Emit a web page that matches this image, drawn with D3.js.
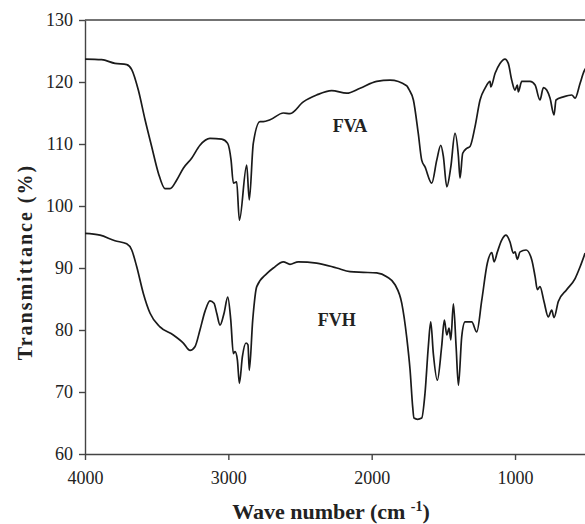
<!DOCTYPE html>
<html>
<head>
    <meta charset="utf-8">
    <style>
        body {
            margin: 0;
            background: #fff;
        }

        .axis .domain,
        .axis .tick line {
            stroke: #444;
            stroke-width: 1.4;
        }
    </style>
</head>
<body>
    <svg width="585" height="524"></svg>

<script src="https://d3js.org/d3.v7.min.js"></script>
<script>
    // wavenumber (cm-1) / transmittance (%)
    let fvaWave = [4000, 3884, 3791, 3709, 3674, 3628, 3581, 3535, 3488, 3442, 3407, 3360, 3314, 3256, 3198, 3128,
        3046, 3005, 2981, 2965, 2942, 2923, 2872, 2854, 2826, 2779, 2756, 2709, 2616, 2570, 2477, 2384, 2279, 2174,
        2081, 1965, 1872, 1756, 1740, 1709, 1675, 1651, 1628, 1581, 1546, 1518, 1500, 1476, 1448, 1419, 1395, 1384,
        1365, 1337, 1314, 1279, 1244, 1209, 1174, 1169, 1139, 1105, 1070, 1047, 1023, 1000, 984, 977, 953, 895, 860,
        826, 802, 779, 756, 728, 714, 663, 604, 581, 546, 519, 500];
    let fvaValue = [123.7, 123.6, 123.0, 122.8, 122.0, 118.7, 113.9, 109.6, 105.3, 102.8, 102.8, 104.2, 106.1, 107.7,
        109.8, 110.9, 110.8, 110.1, 107.4, 103.7, 103.9, 97.7, 106.6, 101.0, 110.1, 113.6, 113.6, 113.9, 115.0, 114.9,
        116.8, 117.9, 118.6, 118.2, 119.0, 120.1, 120.3, 119.4, 118.8, 117.1, 111.7, 107.4, 106.3, 103.7, 107.4, 109.8,
        108.0, 103.1, 106.3, 111.7, 108.0, 104.5, 108.5, 109.3, 109.6, 112.8, 117.1, 119.0, 120.1, 119.2, 121.4, 123.0,
        123.7, 123.0, 120.3, 118.7, 119.5, 118.4, 120.1, 120.1, 119.5, 117.1, 119.1, 118.7, 117.4, 114.7, 117.1, 117.6,
        117.9, 117.4, 119.8, 121.7, 122.5];

    let fvhWave = [4000, 3895, 3791, 3709, 3674, 3639, 3593, 3546, 3477, 3384, 3314, 3267, 3233, 3198, 3163, 3128,
        3100, 3081, 3058, 3030, 3004, 2983, 2965, 2953, 2937, 2923, 2902, 2877, 2863, 2854, 2830, 2802, 2732, 2686,
        2616, 2570, 2512, 2384, 2244, 2151, 2058, 1965, 1895, 1837, 1790, 1756, 1732, 1714, 1705, 1680, 1651, 1628,
        1605, 1588, 1570, 1542, 1512, 1493, 1476, 1460, 1448, 1430, 1411, 1395, 1372, 1349, 1302, 1267, 1232, 1193,
        1162, 1146, 1123, 1093, 1063, 1035, 1012, 1000, 984, 965, 923, 883, 860, 844, 826, 798, 768, 744, 728, 698,
        640, 581, 546, 511];
    let fvhValue = [95.6, 95.3, 94.4, 93.9, 92.9, 90.2, 85.9, 82.7, 80.5, 79.2, 77.9, 76.7, 77.3, 80.0, 83.0, 84.7,
        84.3, 82.7, 80.8, 82.7, 85.3, 81.6, 76.2, 76.5, 75.2, 71.4, 75.7, 77.9, 77.6, 73.5, 81.6, 87.0, 89.1, 90.0,
        91.0, 90.6, 91.0, 90.8, 90.0, 89.4, 89.3, 89.2, 88.6, 87.3, 84.3, 78.9, 73.5, 67.6, 65.8, 65.6, 65.8, 69.8,
        77.3, 81.3, 76.2, 71.9, 77.3, 81.6, 79.2, 80.3, 78.4, 84.2, 77.3, 71.1, 78.9, 81.3, 81.3, 79.7, 84.8, 90.8,
        92.5, 91.0, 92.6, 94.5, 95.3, 94.2, 92.4, 92.6, 91.4, 92.6, 92.9, 91.3, 88.6, 86.5, 87.0, 84.6, 82.1, 83.2,
        82.0, 84.6, 86.5, 88.3, 90.2, 92.4];

    let seriesNames = ["FVA", "FVH"];
    // label anchor points (data coords)
    let labelWave = [2151, 2244];
    let labelValue = [112.0, 80.7];

    let xTicks = [4000, 3000, 2000, 1000];
    let yTicks = [60, 70, 80, 90, 100, 110, 120, 130];

    let serif = "'Liberation Serif', 'Times New Roman', serif";
    let svg = d3.select("svg");
    let margin = { top: 20, left: 85, bottom: 70 };
    let height = 524;

    let x = d3.scaleLinear()
        .domain([4000, 500])
        .range([margin.left, 586.7]);

    let y = d3.scaleLinear()
        .domain([60, 130])
        .range([height - margin.bottom, margin.top]);

    let series = [
        fvaWave.map((w, i) => ({ w: w, v: fvaValue[i] })),
        fvhWave.map((w, i) => ({ w: w, v: fvhValue[i] }))
    ];

    svg.append("defs").append("clipPath")
        .attr("id", "plot")
        .append("rect")
        .attr("x", margin.left)
        .attr("y", margin.top)
        .attr("width", 586.7 - margin.left)
        .attr("height", height - margin.bottom - margin.top);

    // top frame line
    svg.append("line")
        .attr("x1", margin.left)
        .attr("x2", 586.7)
        .attr("y1", y(130))
        .attr("y2", y(130))
        .attr("stroke", "#444")
        .attr("stroke-width", 1.4);

    let xAxis = svg.append("g")
        .attr("class", "x axis")
        .attr("transform", `translate(0,${y(60)})`)
        .call(d3.axisBottom(x).tickValues(xTicks).tickFormat(d3.format("d"))
            .tickSize(6).tickPadding(9).tickSizeOuter(0));
    xAxis.attr("font-family", serif).attr("font-size", 18);
    xAxis.selectAll("text").attr("fill", "#222").attr("dy", "0.85em");

    let yAxis = svg.append("g")
        .attr("class", "y axis")
        .attr("transform", `translate(${margin.left},0)`)
        .call(d3.axisLeft(y).tickValues(yTicks).tickSize(6).tickPadding(6).tickSizeOuter(0));
    yAxis.attr("font-family", serif).attr("font-size", 18);
    yAxis.selectAll("text").attr("fill", "#222");

    let line = d3.line()
        .curve(d3.curveMonotoneX)
        .x(d => x(d.w))
        .y(d => y(d.v));

    svg.append("g")
        .attr("clip-path", "url(#plot)")
        .selectAll("path")
        .data(series)
        .join("path")
        .attr("d", line)
        .attr("fill", "none")
        .attr("stroke", "#1a1a1a")
        .attr("stroke-width", 1.7)
        .attr("stroke-linejoin", "round");

    svg.append("g")
        .selectAll("text")
        .data(seriesNames)
        .join("text")
        .attr("x", (d, i) => x(labelWave[i]))
        .attr("y", (d, i) => y(labelValue[i]))
        .attr("text-anchor", "middle")
        .attr("font-family", serif)
        .attr("font-size", "18px")
        .attr("font-weight", "bold")
        .attr("fill", "#222")
        .text(d => d);

    // axis titles
    let xTitle = svg.append("text")
        .attr("x", 331)
        .attr("y", 519)
        .attr("text-anchor", "middle")
        .attr("font-family", serif)
        .attr("font-size", "22px")
        .attr("font-weight", "bold")
        .attr("fill", "#222");
    xTitle.append("tspan").text("Wave number (cm ");
    xTitle.append("tspan").attr("font-size", "14px").attr("dy", "-8").text("-1");
    xTitle.append("tspan").attr("dy", "8").text(")");

    svg.append("text")
        .attr("transform", "translate(32,262) rotate(-90)")
        .attr("text-anchor", "middle")
        .attr("font-family", serif)
        .attr("font-size", "20px")
        .attr("font-weight", "bold")
        .attr("letter-spacing", "2px")
        .attr("fill", "#222")
        .text("Transmittance (%)");
</script>
</body>
</html>
